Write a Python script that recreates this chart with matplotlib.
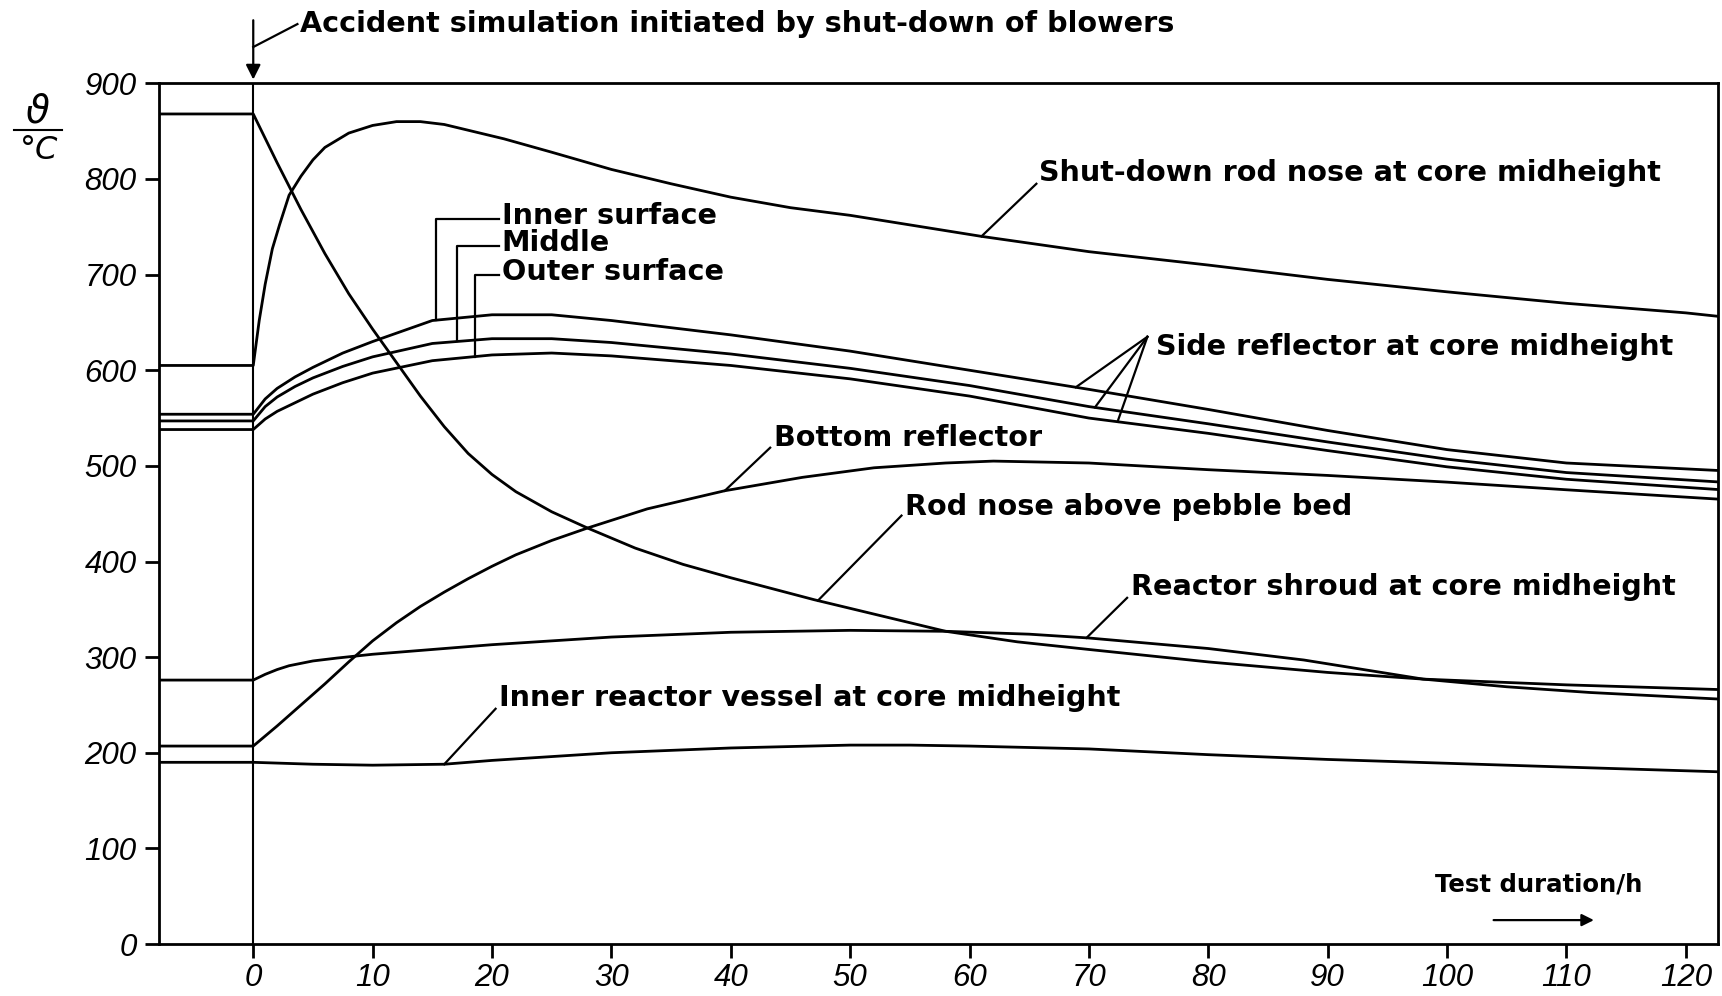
import matplotlib
matplotlib.use('Agg')
import matplotlib.pyplot as plt
import numpy as np

t_sd = [-8, 0, 0.5, 1, 1.6, 2.2, 3, 4, 5, 6, 8, 10, 12, 14, 16, 18, 21, 25, 30, 35, 40, 45, 50, 55, 61, 70, 80, 90, 100, 110, 120, 123]
T_sd = [605, 605, 652, 690, 727, 752, 783, 803, 820, 833, 848, 856, 860, 860, 857, 851, 842, 828, 810, 795, 781, 770, 762, 752, 740, 724, 710, 695, 682, 670, 660, 656]

t_pb = [-8, 0, 2, 4, 6, 8, 10, 12, 14, 16, 18, 20, 22, 25, 28, 32, 36, 40, 47, 52, 58, 64, 70, 80, 90, 98, 110, 123]
T_pb = [868, 868, 817, 768, 722, 680, 643, 608, 573, 541, 513, 491, 473, 452, 435, 414, 397, 383, 360, 345, 327, 316, 308, 295, 284, 277, 271, 266]

t_sh = [-8, 0, 1, 2, 3, 5, 7, 10, 15, 20, 30, 40, 50, 58, 65, 70, 80, 88, 94, 98, 105, 112, 123]
T_sh = [276, 276, 282, 287, 291, 296, 299, 303, 308, 313, 321, 326, 328, 327, 324, 320, 309, 297, 285, 277, 269, 263, 256]

t_v = [-8, 0, 5, 10, 16, 20, 25, 30, 40, 50, 55, 60, 70, 80, 90, 100, 110, 123]
T_v = [190, 190, 188, 187, 188, 192, 196, 200, 205, 208, 208, 207, 204, 198, 193, 189, 185, 180]

t_br = [-8, 0, 2, 4, 6, 8, 10, 12, 14, 16, 18, 20, 22, 25, 28, 33, 39.5, 46, 52, 58, 62, 70, 80, 90, 100, 110, 123]
T_br = [207, 207, 228, 250, 272, 295, 317, 336, 353, 368, 382, 395, 407, 422, 435, 455, 474, 488, 498, 503, 505, 503, 496, 490, 483, 475, 465]

t_sr = [-8, 0, 1, 2, 3.5, 5, 7.5, 10, 15, 20, 25, 30, 40, 50, 60, 70, 80, 90, 100, 110, 123]
T_inner = [554, 554, 570, 581, 593, 603, 618, 630, 652, 658, 658, 652, 637, 620, 600, 580, 559, 537, 517, 503, 495]
T_middle = [547, 547, 562, 572, 583, 592, 604, 614, 628, 633, 633, 629, 617, 602, 584, 562, 544, 525, 507, 493, 483]
T_outer = [538, 538, 549, 557, 566, 575, 587, 597, 610, 616, 618, 615, 605, 591, 573, 550, 534, 516, 499, 486, 475]

xticks = list(range(0, 121, 10))
yticks = list(range(0, 901, 100))

fig = plt.figure(figsize=(17.22, 9.96), dpi=100)
ax = fig.add_axes([0.0923, 0.0522, 0.9054, 0.8641])

lw = 2.0
for t, T in [(t_sd, T_sd), (t_pb, T_pb), (t_sh, T_sh), (t_v, T_v), (t_br, T_br),
             (t_sr, T_inner), (t_sr, T_middle), (t_sr, T_outer)]:
    ax.plot(t, T, 'k-', lw=lw, solid_joinstyle='round')

ax.axvline(0, color='k', lw=1.5)
ax.set_xlim(-7.9, 122.7)
ax.set_ylim(0, 900)
for s in ax.spines.values():
    s.set_linewidth(2.0)

tickfont = dict(family='Liberation Sans', style='italic', size=22.5)
ax.set_xticks(xticks)
ax.set_yticks(yticks)
ax.set_xticklabels([str(v) for v in xticks], fontdict=tickfont)
ax.set_yticklabels([str(v) for v in yticks], fontdict=tickfont)
ax.tick_params(direction='out', length=10, width=2.0)
ax.tick_params(axis='x', pad=4)
ax.tick_params(axis='y', pad=6)

# Achsenbeschriftung y: theta / degC
fig.text(0.022, 0.888, '\u03d1', fontsize=28, style='italic', family='DejaVu Sans', ha='center', va='center')
fig.add_artist(plt.Line2D([0.008, 0.036], [0.869, 0.869], color='k', lw=1.5))
fig.text(0.023, 0.849, '\u00b0C', fontsize=23, style='italic', family='DejaVu Sans', ha='center', va='center')

lab = dict(family='DejaVu Sans', weight='bold', size=20.6, ha='left', va='center')

def leader(x0, y0, x1, y1):
    ax.plot([x0, x1], [y0, y1], 'k-', lw=1.6, clip_on=False)

def foot(t, curve_t, curve_T):
    return float(np.interp(t, curve_t, curve_T))

# Unfall-Pfeil oben
ax.annotate('', xy=(0, 904), xytext=(0, 966), annotation_clip=False,
            arrowprops=dict(arrowstyle='-|>', color='k', lw=1.6, mutation_scale=22, shrinkA=0, shrinkB=0))
leader(0, 938, 3.7, 962)
ax.text(3.9, 962, 'Accident simulation initiated by shut-down of blowers', clip_on=False, **lab)

# Beschriftungen
leader(61, foot(61, t_sd, T_sd), 65.6, 795)
ax.text(65.8, 806, 'Shut-down rod nose at core midheight', **lab)

for tx, curve, ylab, txt in [(15.3, T_inner, 758, 'Inner surface'),
                             (17.1, T_middle, 730, 'Middle'),
                             (18.6, T_outer, 700, 'Outer surface')]:
    ax.plot([tx, tx, 20.6], [foot(tx, t_sr, curve), ylab, ylab], 'k-', lw=1.6)
    ax.text(20.8, ylab + 3, txt, **lab)

for tx, curve in [(68.9, T_inner), (70.5, T_middle), (72.4, T_outer)]:
    leader(tx, foot(tx, t_sr, curve), 74.9, 635)
ax.text(75.6, 624, 'Side reflector at core midheight', **lab)

leader(39.5, foot(39.5, t_br, T_br), 43.3, 519)
ax.text(43.6, 529, 'Bottom reflector', **lab)

leader(47.3, foot(47.3, t_pb, T_pb), 54.3, 448)
ax.text(54.6, 457, 'Rod nose above pebble bed', **lab)

leader(69.8, foot(69.8, t_sh, T_sh), 73.2, 362)
ax.text(73.5, 373, 'Reactor shroud at core midheight', **lab)

leader(16, foot(16, t_v, T_v), 20.3, 246)
ax.text(20.6, 257, 'Inner reactor vessel at core midheight', **lab)

ax.text(99, 62, 'Test duration/h', family='DejaVu Sans', weight='bold', size=17.6, ha='left', va='center')
ax.annotate('', xy=(112.3, 25), xytext=(103.9, 25),
            arrowprops=dict(arrowstyle='-|>', color='k', lw=1.6, mutation_scale=18, shrinkA=0, shrinkB=0))

plt.savefig('out.png', dpi=100)
